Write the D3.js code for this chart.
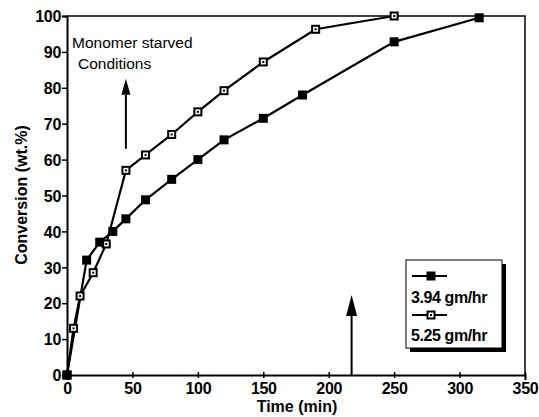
<!DOCTYPE html>
<html>
<head>
<meta charset="utf-8">
<script src="https://cdn.jsdelivr.net/npm/d3@7"></script>
<style>
  html, body { margin: 0; padding: 0; background: #fff; }
  svg { display: block; }
  text { font-family: "Liberation Sans", Arial, Helvetica, sans-serif; fill: #000; }
</style>
</head>
<body>
<svg id="chart" width="539" height="417"></svg>
<script>
// Conversion vs. time for two monomer feed rates
const seriesNames = ["3.94 gm/hr", "5.25 gm/hr"];

const timeLow  = [0, 15, 25, 35, 45, 60, 80, 100, 120, 150, 180, 250, 315];
const convLow  = [0, 32, 37, 40, 43.5, 48.8, 54.5, 60, 65.5, 71.5, 78, 92.8, 99.5];

const timeHigh = [0, 5, 10, 20, 30, 45, 60, 80, 100, 120, 150, 190, 250];
const convHigh = [0, 13, 22, 28.5, 36.5, 57, 61.3, 67, 73.3, 79.2, 87.2, 96.3, 100];

const xTicks = [0, 50, 100, 150, 200, 250, 300, 350];
const yTicks = [0, 10, 20, 30, 40, 50, 60, 70, 80, 90, 100];

// annotation arrows: [time, conversion at tail, conversion at tip]
const arrowStarved = [45, 63, 82.5];
const arrowFeed    = [217.5, 0, 22.3];

const svg = d3.select("#chart");
const plotLeft = 67, plotRight = 525, plotTop = 16, plotBottom = 375;

const x = d3.scaleLinear().domain([0, 350]).range([plotLeft, plotRight]);
const y = d3.scaleLinear().domain([0, 100]).range([plotBottom, plotTop]);

// frame: top and right edges
svg.append("path")
  .attr("d", `M${plotLeft},${plotTop}H${plotRight}V${plotBottom}`)
  .attr("fill", "none").attr("stroke", "#000").attr("stroke-width", 1.5);

// axes
const xAxis = d3.axisBottom(x).tickValues(xTicks).tickSize(5).tickPadding(3);
const yAxis = d3.axisLeft(y).tickValues(yTicks).tickSize(5).tickPadding(1);

const gx = svg.append("g").attr("transform", `translate(0,${plotBottom})`).call(xAxis);
const gy = svg.append("g").attr("transform", `translate(${plotLeft},0)`).call(yAxis);

[gx, gy].forEach(g => {
  g.select(".domain").attr("stroke", "#000").attr("stroke-width", 2);
  g.selectAll(".tick line").attr("stroke", "#000").attr("stroke-width", 1.5);
  g.selectAll(".tick text")
    .attr("fill", "#000")
    .style("font-family", '"Liberation Sans", Arial, sans-serif')
    .style("font-size", "16px")
    .style("font-weight", "bold")
    .style("letter-spacing", "-0.3px");
});
gx.selectAll(".tick line").attr("y1", -3).attr("y2", 3);
gy.selectAll(".tick text").attr("dy", "0.36em");

// axis titles
svg.append("text")
  .attr("x", 297).attr("y", 412)
  .attr("text-anchor", "middle")
  .style("font-size", "16px").style("font-weight", "bold")
  .text("Time (min)");

svg.append("text")
  .attr("transform", `translate(27,195) rotate(-90)`)
  .attr("text-anchor", "middle")
  .style("font-size", "16px").style("font-weight", "bold")
  .text("Conversion (wt.%)");

// lines
const line = d3.line().x(d => x(d[0])).y(d => y(d[1]));
const ptsLow = timeLow.map((t, i) => [t, convLow[i]]);
const ptsHigh = timeHigh.map((t, i) => [t, convHigh[i]]);

svg.append("path").datum(ptsLow).attr("d", line)
  .attr("fill", "none").attr("stroke", "#000").attr("stroke-width", 2.2);
svg.append("path").datum(ptsHigh).attr("d", line)
  .attr("fill", "none").attr("stroke", "#000").attr("stroke-width", 2.2);

// markers
const ms = 9;
function filledMarker(g, cx, cy) {
  g.append("rect").attr("x", cx - ms / 2).attr("y", cy - ms / 2)
    .attr("width", ms).attr("height", ms).attr("fill", "#000");
}
function hollowMarker(g, cx, cy) {
  g.append("rect").attr("x", cx - ms / 2 + 1).attr("y", cy - ms / 2 + 1)
    .attr("width", ms - 2).attr("height", ms - 2)
    .attr("fill", "#fff").attr("stroke", "#000").attr("stroke-width", 2);
  g.append("rect").attr("x", cx - 1).attr("y", cy - 1)
    .attr("width", 2).attr("height", 2).attr("fill", "#000");
}
const gm = svg.append("g");
ptsHigh.forEach(d => hollowMarker(gm, x(d[0]), y(d[1])));
ptsLow.forEach(d => filledMarker(gm, x(d[0]), y(d[1])));

// arrows
function arrow(a, headW, headL) {
  const ax = x(a[0]), y0 = y(a[1]), y1 = y(a[2]);
  svg.append("line").attr("x1", ax).attr("x2", ax)
    .attr("y1", y0).attr("y2", y1 + headL)
    .attr("stroke", "#000").attr("stroke-width", 2);
  svg.append("path")
    .attr("d", `M${ax},${y1}L${ax - headW / 2},${y1 + headL}L${ax + headW / 2},${y1 + headL}Z`)
    .attr("fill", "#000");
}
arrow(arrowStarved, 9, 16);
arrow(arrowFeed, 11, 21);

// annotation text
svg.append("text").attr("x", 72).attr("y", 48)
  .style("font-size", "15.5px")
  .text("Monomer starved");
svg.append("text").attr("x", 78).attr("y", 69)
  .style("font-size", "15.5px")
  .text("Conditions");

// legend with drop shadow
const lg = svg.append("g");
const lx = 406, ly = 260, lw = 96, lh = 88;
lg.append("rect").attr("x", lx + 4).attr("y", ly + 4).attr("width", lw).attr("height", lh).attr("fill", "#000");
lg.append("rect").attr("x", lx).attr("y", ly).attr("width", lw).attr("height", lh)
  .attr("fill", "#fff").attr("stroke", "#000").attr("stroke-width", 1);

const legendRows = [
  { name: seriesNames[0], marker: filledMarker, ly: 276, ty: 303 },
  { name: seriesNames[1], marker: hollowMarker, ly: 315, ty: 341 }
];
legendRows.forEach(r => {
  lg.append("line").attr("x1", 412).attr("x2", 447).attr("y1", r.ly).attr("y2", r.ly)
    .attr("stroke", "#000").attr("stroke-width", 2);
  r.marker(lg, 431, r.ly);
  lg.append("text").attr("x", 411).attr("y", r.ty)
    .style("font-size", "16px").style("font-weight", "bold").style("letter-spacing", "-0.4px")
    .text(r.name);
});
</script>
</body>
</html>
